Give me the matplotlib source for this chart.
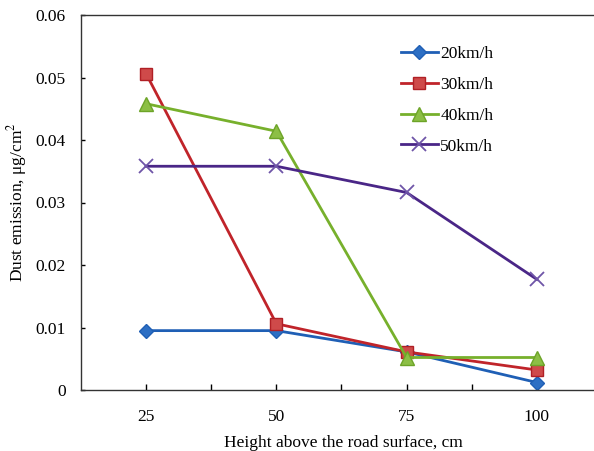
import matplotlib.pyplot as plt
from matplotlib.ticker import FixedLocator

plt.rcParams['font.family'] = ['Liberation Serif', 'DejaVu Serif']
plt.rcParams['mathtext.fontset'] = 'stix'

heights = [25, 50, 75, 100]
v20 = [0.0095, 0.0095, 0.0061, 0.0012]
v30 = [0.0506, 0.0106, 0.0061, 0.0032]
v40 = [0.0458, 0.0414, 0.0052, 0.0052]
v50 = [0.0358, 0.0358, 0.0316, 0.0177]
yticks = [0, 0.01, 0.02, 0.03, 0.04, 0.05, 0.06]
ylabels = ['0', '0.01', '0.02', '0.03', '0.04', '0.05', '0.06']

pos = [1, 2, 3, 4]

fig = plt.figure(figsize=(5.94, 4.51), dpi=100)
# the original is cropped on the right, so the axes run past the figure edge
ax = fig.add_axes([81 / 594, 61 / 451, 525 / 594, 375 / 451])

ax.plot(pos, v20, color='#1f5fb5', lw=2.0, marker='D', ms=7,
        mfc='#2d6fc4', mec='#1f5fb5', label='20km/h')
ax.plot(pos, v30, color='#c0242a', lw=2.0, marker='s', ms=9,
        mfc='#cf4a4a', mec='#b01f25', label='30km/h')
ax.plot(pos, v40, color='#77b02c', lw=2.0, marker='^', ms=10,
        mfc='#8cbf45', mec='#6da428', label='40km/h')
ax.plot(pos, v50, color='#4a2687', lw=2.0, marker='x', ms=10,
        mew=1.3, mec='#6f55a8', label='50km/h')

ax.set_xlim(0.5, 4.5 + 4 / 130.0)
ax.set_ylim(0, 0.06)
ax.xaxis.set_major_locator(FixedLocator(pos))
ax.xaxis.set_minor_locator(FixedLocator([1.5, 2.5, 3.5]))
ax.set_xticklabels([str(h) for h in heights])
ax.set_yticks(yticks)
ax.set_yticklabels(ylabels)
ax.tick_params(axis='x', which='both', direction='in', length=4, width=1,
               labelsize=12.5, pad=14)
ax.tick_params(axis='y', direction='in', length=3, width=1, labelsize=12.5, pad=11)
for s in ax.spines.values():
    s.set_linewidth(1.0)
    s.set_color('#333333')
ax.spines['right'].set_visible(False)

ax.set_xlabel('Height above the road surface, cm', fontsize=12.5, labelpad=7)
ax.set_ylabel('Dust emission, μg/cm$^2$', fontsize=12.5, labelpad=5)

ax.legend(loc='upper left', bbox_to_anchor=(0.58, 0.96), frameon=False,
          fontsize=12.5, handlelength=2.1, handletextpad=0.15, labelspacing=0.85)

fig.savefig('out.png', dpi=100)
